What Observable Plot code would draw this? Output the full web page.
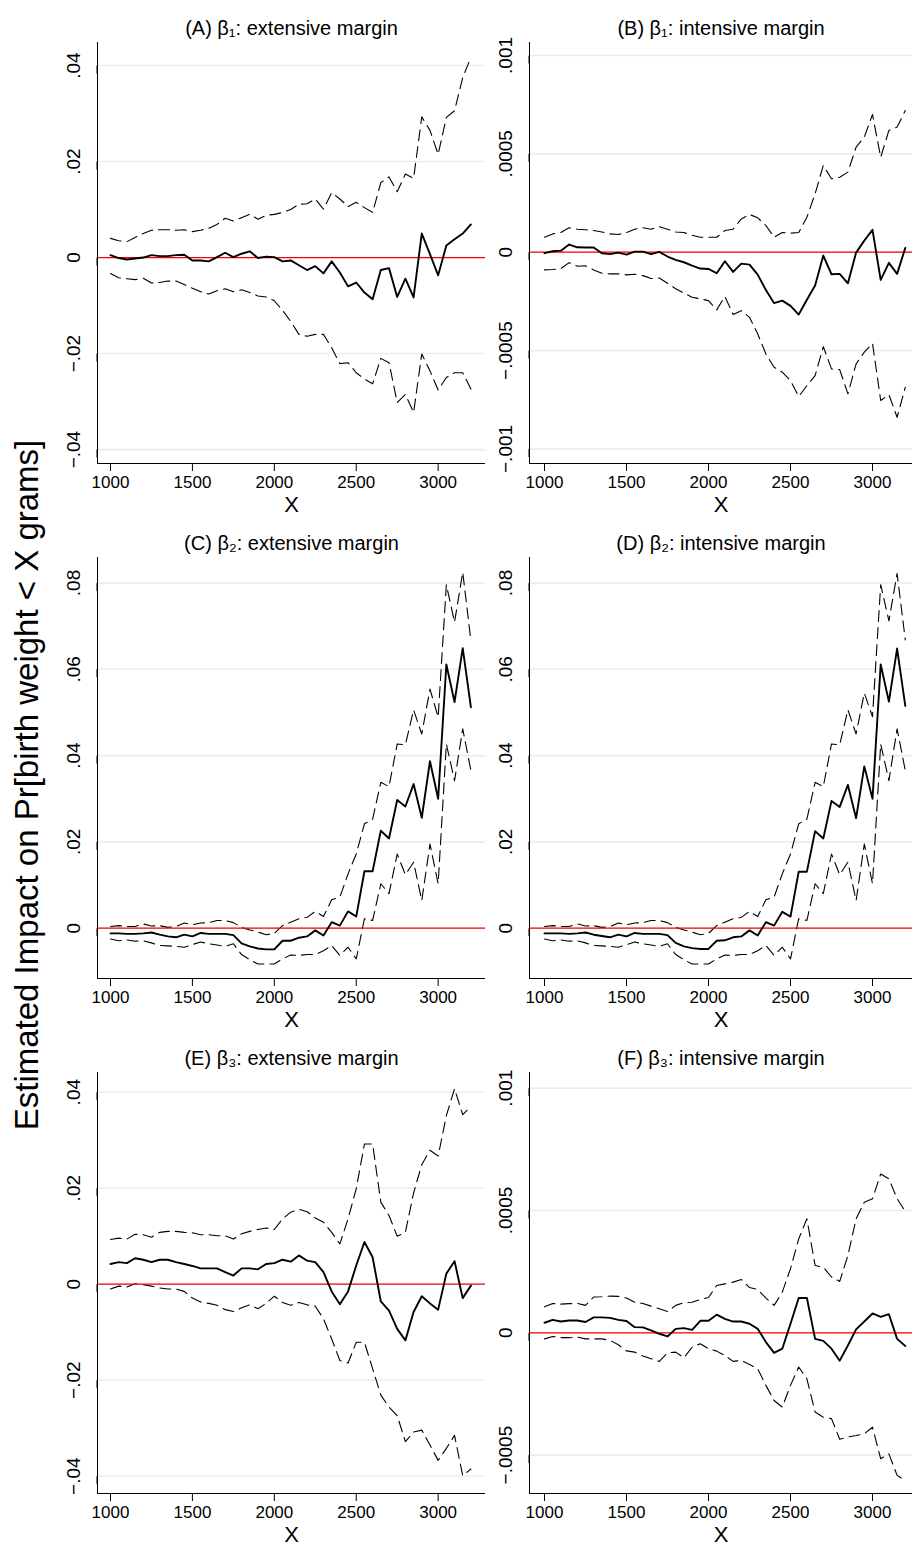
<!DOCTYPE html>
<html>
<head>
<meta charset="utf-8">
<script src="https://cdn.jsdelivr.net/npm/d3@7"></script>
<script src="https://cdn.jsdelivr.net/npm/@observablehq/plot@0.6"></script>
<style>
  body { margin: 0; background: #fff; font-family: "Liberation Sans", Arial, sans-serif; }
  #wrap { position: relative; width: 912px; height: 1549px; }
  .panel { position: absolute; }
  #ylab { position: absolute; left: 27px; top: 785px; transform: translate(-50%, -50%) rotate(-90deg);
          white-space: nowrap; font-size: 33px; color: #000; }
</style>
</head>
<body>
<div id="wrap">
  <div id="ylab">Estimated Impact on Pr[birth weight &lt; X grams]</div>
</div>
<script>
const xs = [1000,1050,1100,1150,1200,1250,1300,1350,1400,1450,1500,1550,1600,1650,1700,1750,1800,1850,1900,1950,
  2000,2050,2100,2150,2200,2250,2300,2350,2400,2450,2500,2550,2600,2650,2700,2750,2800,2850,2900,2950,3000,3050,3100,3150,3200];

// (A) beta1 extensive
const aEst = [.0005,-.0001,-.0004,-.0002,0,.0005,.0003,.0003,.0005,.0006,-.0006,-.0006,-.0008,.0001,.001,.0001,.0008,.0013,-.0001,.0002,
  .0001,-.0008,-.0006,-.0016,-.0026,-.0018,-.0033,-.0008,-.0031,-.006,-.0052,-.0073,-.0087,-.0026,-.0022,-.0082,-.0044,-.0083,.005,.0007,-.0037,.0025,.0038,.005,.0069];
const aHi = [.004,.0035,.0033,.0042,.005,.0057,.0058,.0058,.0057,.0058,.0054,.0057,.0061,.0069,.0082,.0076,.0083,.009,.008,.0088,
  .009,.0094,.01,.0111,.0112,.0122,.0101,.0135,.0122,.0106,.0115,.0104,.0094,.0156,.0168,.0137,.0174,.0165,.0293,.0265,.0215,.0292,.0306,.0375,.0417];
const aLo = [-.0033,-.0042,-.0044,-.0046,-.0043,-.0053,-.0052,-.0049,-.0049,-.0056,-.0064,-.0071,-.0076,-.0069,-.0065,-.0071,-.0067,-.0073,-.008,-.0082,
  -.009,-.011,-.0133,-.016,-.0164,-.016,-.016,-.0188,-.0221,-.0219,-.024,-.0253,-.0263,-.021,-.0219,-.0302,-.0285,-.0323,-.0201,-.0236,-.0276,-.025,-.024,-.024,-.0274];

// (B) beta1 intensive, in units of 1e-4
const bEst = [-.05,.05,.08,.39,.25,.24,.24,-.05,-.1,-.02,-.12,.03,.03,-.1,.02,-.22,-.39,-.51,-.68,-.83,
  -.85,-1.07,-.46,-1.0,-.58,-.63,-1.14,-1.92,-2.59,-2.46,-2.73,-3.17,-2.42,-1.69,-.17,-1.12,-1.1,-1.58,-.02,.59,1.14,-1.41,-.54,-1.1,.22];
const bHi = [.76,.93,1.0,1.24,1.17,1.14,1.1,1.03,.93,.9,1.0,1.17,1.24,1.17,1.3,1.17,1.03,1.0,.86,.76,
  .76,.76,1.1,1.17,1.69,1.92,1.75,1.36,.76,1.0,.97,1.0,1.78,2.97,4.41,3.73,3.81,4.07,5.34,5.85,7.0,4.83,6.19,6.36,7.2];
const bLo = [-.9,-.88,-.83,-.53,-.71,-.69,-.9,-1.07,-1.1,-1.1,-1.15,-1.12,-1.19,-1.34,-1.31,-1.58,-1.86,-2.07,-2.29,-2.37,
  -2.46,-2.93,-2.25,-3.17,-2.97,-3.31,-4.15,-5.17,-5.85,-6.1,-6.53,-7.34,-6.78,-6.27,-4.8,-5.93,-5.97,-7.2,-5.68,-5.08,-4.63,-7.54,-7.24,-8.39,-6.86];

// (C) beta2 extensive
const cEst = [-.0012,-.0012,-.0013,-.0013,-.0012,-.001,-.0015,-.0019,-.0021,-.0015,-.0019,-.0011,-.0013,-.0013,-.0013,-.0016,-.0035,-.0042,-.0047,-.0049,
  -.0049,-.0029,-.0029,-.0022,-.0019,-.0005,-.0017,.0014,.0006,.0039,.0027,.0132,.0132,.0226,.0208,.0297,.0282,.0334,.0256,.0387,.03,.0611,.0524,.0649,.0512];
const cHi = [.0004,.0006,.0004,.0004,.001,.0005,.0006,.0002,.0004,.0012,.0008,.0012,.0013,.0018,.0018,.0013,.0002,-.0004,-.0009,-.0015,
  -.0012,.0006,.0014,.0022,.0025,.0039,.0027,.0066,.0072,.0126,.0172,.0242,.0253,.0338,.0328,.0427,.0425,.0506,.045,.0554,.0489,.0796,.0709,.0825,.0666];
const cLo = [-.0025,-.0029,-.0027,-.003,-.0029,-.0034,-.004,-.0041,-.0042,-.0044,-.0038,-.0032,-.0036,-.0039,-.0042,-.0036,-.0061,-.0073,-.0083,-.0083,
  -.0083,-.0071,-.0062,-.0063,-.0061,-.0061,-.0052,-.004,-.0063,-.0044,-.0071,.0022,.0018,.0103,.008,.0172,.0124,.0153,.0064,.0195,.0103,.0427,.0342,.0462,.0365];

// (D) beta2 intensive
const dEst = [-.0012,-.0012,-.0012,-.0013,-.0012,-.001,-.0015,-.0018,-.0021,-.0015,-.0019,-.0011,-.0013,-.0013,-.0013,-.0016,-.0034,-.0042,-.0046,-.0048,
  -.0048,-.0029,-.0028,-.0021,-.0019,-.0005,-.0017,.0014,.0006,.0038,.0027,.0131,.0131,.0225,.0208,.0295,.0281,.0332,.0255,.0375,.03,.0611,.0525,.0648,.0515];
const dHi = [.0004,.0006,.0004,.0004,.001,.0005,.0006,.0002,.0004,.0012,.0008,.0012,.0013,.0018,.0018,.0013,.0002,-.0004,-.0009,-.0015,
  -.0012,.0006,.0014,.0022,.0025,.0039,.0027,.0066,.0072,.0126,.0172,.0242,.0253,.0338,.0328,.0427,.0425,.0506,.045,.0545,.049,.0796,.0712,.0822,.0668];
const dLo = [-.0025,-.0029,-.0027,-.003,-.0029,-.0034,-.004,-.0041,-.0042,-.0044,-.0038,-.0032,-.0036,-.0039,-.0042,-.0036,-.0061,-.0073,-.0083,-.0083,
  -.0083,-.0071,-.0062,-.0063,-.0061,-.0061,-.0052,-.004,-.0063,-.0044,-.0071,.0022,.0018,.0103,.008,.0172,.0124,.0153,.0064,.0195,.0103,.0427,.0342,.0462,.0365];

// (E) beta3 extensive
const eEst = [.0042,.0046,.0044,.0054,.0051,.0046,.0051,.0051,.0046,.0042,.0038,.0033,.0033,.0033,.0025,.0018,.0033,.0033,.0031,.0042,
  .0044,.0051,.0047,.006,.0049,.0046,.0025,-.0015,-.0042,-.0015,.0039,.0088,.0056,-.0036,-.0055,-.0093,-.0117,-.0058,-.0025,-.004,-.0053,.0022,.0048,-.0029,-.0003];
const eHi = [.0093,.0096,.0094,.0104,.0103,.0098,.0108,.011,.011,.0108,.0107,.0103,.0103,.0101,.0101,.0094,.0105,.011,.0114,.0117,
  .0114,.0136,.015,.0156,.0151,.0138,.0129,.0108,.0084,.0136,.0199,.0292,.0292,.0171,.0143,.01,.0108,.019,.0249,.0279,.0267,.0351,.0407,.0353,.0371];
const eLo = [-.001,-.0004,-.0006,.0001,-.0001,-.0004,-.0008,-.001,-.001,-.0015,-.0029,-.0037,-.004,-.0044,-.0053,-.0057,-.0049,-.0043,-.0051,-.004,
  -.0025,-.0038,-.0044,-.0038,-.0043,-.0046,-.0072,-.0114,-.0159,-.0164,-.0121,-.0121,-.0176,-.0231,-.0256,-.0274,-.0328,-.0308,-.0304,-.0335,-.0367,-.0342,-.0315,-.0399,-.0385];

// (F) beta3 intensive, in units of 1e-4
const fEst = [.41,.53,.46,.5,.5,.44,.63,.63,.61,.53,.48,.23,.22,.1,-.04,-.15,.16,.19,.12,.49,
  .49,.74,.57,.46,.46,.37,.16,-.38,-.82,-.65,.37,1.42,1.42,-.25,-.33,-.65,-1.14,-.52,.14,.46,.79,.65,.76,-.25,-.54];
const fHi = [1.06,1.2,1.17,1.19,1.2,1.12,1.46,1.47,1.5,1.49,1.42,1.25,1.2,1.09,.98,.87,1.12,1.23,1.25,1.36,
  1.44,1.93,2.0,2.07,2.18,1.85,1.77,1.42,1.12,1.66,2.62,3.84,4.66,2.75,2.68,2.28,2.1,3.16,4.66,5.34,5.48,6.49,6.29,5.48,4.96];
const fLo = [-.25,-.15,-.2,-.2,-.18,-.25,-.25,-.25,-.31,-.49,-.74,-.79,-.95,-1.06,-1.17,-.82,-.79,-1.02,-.59,-.45,
  -.65,-.75,-.93,-1.17,-1.13,-1.3,-1.47,-2.15,-2.77,-3.04,-2.15,-1.4,-1.88,-3.24,-3.45,-3.51,-4.35,-4.26,-4.2,-4.13,-3.86,-5.15,-4.95,-5.83,-6.04];

const xTicks = [1000,1500,2000,2500,3000];

const fmt = d => d === 0 ? "0" : (d < 0 ? "\u2212" : "") + String(+Math.abs(d).toPrecision(6)).replace(/^0\./, ".");

const panels = [
  {title: "(A) \u03b2\u2081: extensive margin", est: aEst, hi: aHi, lo: aLo, k: 1, dom: [-.0429, .0448], ticks: [-.04,-.02,0,.02,.04], col: 0, row: 0},
  {title: "(B) \u03b2\u2081: intensive margin", est: bEst, hi: bHi, lo: bLo, k: 1e-4, dom: [-.001074, .001066], ticks: [-.001,-.0005,0,.0005,.001], col: 1, row: 0},
  {title: "(C) \u03b2\u2082: extensive margin", est: cEst, hi: cHi, lo: cLo, k: 1, dom: [-.01165, .0859], ticks: [0,.02,.04,.06,.08], col: 0, row: 1},
  {title: "(D) \u03b2\u2082: intensive margin", est: dEst, hi: dHi, lo: dLo, k: 1, dom: [-.01165, .0859], ticks: [0,.02,.04,.06,.08], col: 1, row: 1},
  {title: "(E) \u03b2\u2083: extensive margin", est: eEst, hi: eHi, lo: eLo, k: 1, dom: [-.0436, .0441], ticks: [-.04,-.02,0,.02,.04], col: 0, row: 2},
  {title: "(F) \u03b2\u2083: intensive margin", est: fEst, hi: fHi, lo: fLo, k: 1e-4, dom: [-.000657, .001064], ticks: [-.0005,0,.0005,.001], col: 1, row: 2}
];

const wrap = document.getElementById("wrap");

for (const p of panels) {
  const rows = xs.map((x, i) => ({x, est: p.est[i] * p.k, hi: p.hi[i] * p.k, lo: p.lo[i] * p.k}));
  const left = p.col === 0 ? 0 : 440;
  const width = p.col === 0 ? 490 : 472;
  const marginLeft = p.col === 0 ? 97 : 89;
  const xDom = p.col === 0 ? [920.6, 3289] : [1000 - (544 - marginLeft - left) / 0.164, 1000 + (912 - 544) / 0.164];
  const chart = Plot.plot({
    width,
    height: 521,
    marginLeft,
    marginRight: p.col === 0 ? 5 : 0,
    marginTop: 40,
    marginBottom: 60,
    style: {fontFamily: "Liberation Sans, Arial, sans-serif", background: "transparent", overflow: "visible"},
    x: {domain: xDom},
    y: {domain: p.dom},
    marks: [
      Plot.gridY(p.ticks, {stroke: "#e6eef1", strokeOpacity: 1, strokeWidth: 1.6}),
      Plot.line(rows, {x: "x", y: "hi", stroke: "#000", strokeWidth: 1.1, strokeDasharray: "11,6"}),
      Plot.line(rows, {x: "x", y: "lo", stroke: "#000", strokeWidth: 1.1, strokeDasharray: "11,6"}),
      Plot.ruleY([0], {stroke: "#ff0000", strokeOpacity: 1, strokeWidth: 1.2}),
      Plot.line(rows, {x: "x", y: "est", stroke: "#000", strokeWidth: 1.9}),
      Plot.ruleX([xDom[0]], {stroke: "#000", strokeWidth: 1}),
      Plot.ruleY([p.dom[0]], {stroke: "#000", strokeWidth: 1}),
      Plot.axisX(xTicks, {tickSize: 8, tickPadding: 4, fontSize: 17, tickFormat: d => String(d), label: null, stroke: "#000"}),
      Plot.axisY(p.ticks, {tickSize: 8, tickPadding: 16, fontSize: 19, rotate: -90, textAnchor: "middle", lineAnchor: "middle", tickFormat: fmt, label: null, stroke: "#000"}),
      Plot.text(["X"], {frameAnchor: "bottom", dy: 48, fontSize: 22}),
      Plot.text([p.title], {frameAnchor: "top", dy: -22, fontSize: 20})
    ]
  });
  const div = document.createElement("div");
  div.className = "panel";
  div.style.left = left + "px";
  div.style.top = (2 + p.row * 515) + "px";
  div.appendChild(chart);
  wrap.appendChild(div);
}
</script>
</body>
</html>
